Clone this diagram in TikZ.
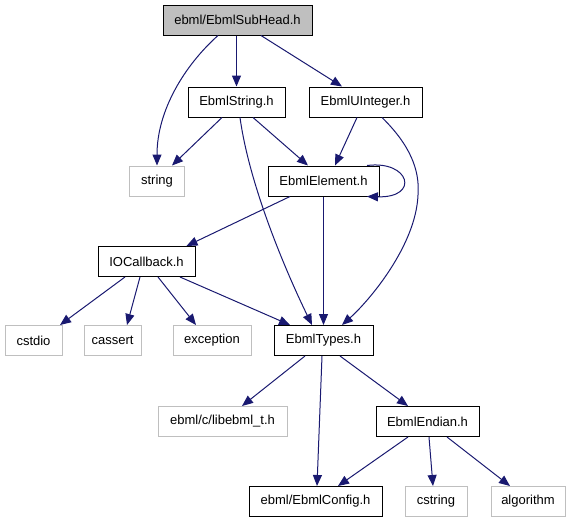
\documentclass[tikz,border=0pt]{standalone}
\usepackage{fontspec}
\setmainfont{Liberation Sans}
\usetikzlibrary{arrows.meta}
\definecolor{edgeblue}{HTML}{191970}
\definecolor{grayfill}{HTML}{BFBFBF}
\begin{document}
\begin{tikzpicture}[x=1pt,y=-1pt,
  box/.style={draw=black, line width=1pt, minimum height=30pt, inner sep=0pt,
              font=\fontsize{13}{15}\selectfont, anchor=center},
  ext/.style={box, draw=grayfill},
  root/.style={box, fill=grayfill},
  dep/.style={draw=edgeblue, line width=1pt, -{Triangle[length=11pt,width=9pt]}, color=edgeblue}]
\useasboundingbox (0,0) rectangle (571,523);
\node[root, minimum width=149pt] (sub) at (237.5,20) {ebml/EbmlSubHead.h};
\node[box, minimum width=97pt] (str) at (236.5,102) {EbmlString.h};
\node[box, minimum width=113pt] (uint) at (365.5,102) {EbmlUInteger.h};
\node[ext, minimum width=55pt] (string) at (157,181) {string};
\node[box, minimum width=111pt] (elem) at (323.5,181) {EbmlElement.h};
\node[box, minimum width=97pt] (io) at (146.5,261.5) {IOCallback.h};
\node[ext, minimum width=57pt] (cstdio) at (33.5,340.5) {cstdio};
\node[ext, minimum width=57pt] (cassert) at (112.5,340.5) {cassert};
\node[ext, minimum width=78pt] (exc) at (212,340.5) {exception};
\node[box, minimum width=99pt] (types) at (323.5,340.5) {EbmlTypes.h};
\node[ext, minimum width=129pt] (libt) at (222.5,421.5) {ebml/c/libebml\_t.h};
\node[box, minimum width=103pt] (endian) at (427.5,421.5) {EbmlEndian.h};
\node[box, minimum width=133pt] (config) at (315.5,501.5) {ebml/EbmlConfig.h};
\node[ext, minimum width=62pt] (cstring) at (436,501.5) {cstring};
\node[ext, minimum width=74pt] (algo) at (528,501.5) {algorithm};

\draw[dep] ([xshift=-19.5pt]sub.south) .. controls (185,65) and (157,110) .. (string.north);
\draw[dep] (sub.south -| str.north) -- (str.north);
\draw[dep] ([xshift=23.5pt]sub.south) -- ([xshift=-23.5pt]uint.north);
\draw[dep] ([xshift=-14.5pt]str.south) -- ([xshift=15pt]string.north);
\draw[dep] ([xshift=16.5pt]str.south) -- ([xshift=-15.5pt]elem.north);
\draw[dep] ([xshift=3.5pt]str.south) .. controls (250,190) and (290,280) .. ([xshift=-11.5pt]types.north);
\draw[dep] ([xshift=-8.5pt]uint.south) -- ([xshift=11.5pt]elem.north);
\draw[dep] ([xshift=16.5pt]uint.south) .. controls (410,145) and (420,170) .. (418,195)
           .. controls (416,245) and (370,300) .. ([xshift=18.5pt]types.north);
\draw[dep] ([xshift=43.5pt]elem.north) .. controls (410,160) and (420,198) .. ([xshift=43.5pt]elem.south);
\draw[dep] ([xshift=-33.5pt]elem.south) -- ([xshift=40pt]io.north);
\draw[dep] (elem.south) -- (types.north);
\draw[dep] ([xshift=-21.5pt]io.south) -- ([xshift=26.5pt]cstdio.north);
\draw[dep] ([xshift=-6.5pt]io.south) -- ([xshift=14.5pt]cassert.north);
\draw[dep] ([xshift=11.5pt]io.south) -- ([xshift=-16pt]exc.north);
\draw[dep] ([xshift=33.5pt]io.south) -- ([xshift=-33.5pt]types.north);
\draw[dep] ([xshift=-18.5pt]types.south) -- ([xshift=19.5pt]libt.north);
\draw[dep] ([xshift=-1.5pt]types.south) -- ([xshift=1.5pt]config.north);
\draw[dep] ([xshift=16.5pt]types.south) -- ([xshift=-19.5pt]endian.north);
\draw[dep] ([xshift=-19.5pt]endian.south) -- ([xshift=22.5pt]config.north);
\draw[dep] ([xshift=1.5pt]endian.south) -- ([xshift=-3pt]cstring.north);
\draw[dep] ([xshift=19.5pt]endian.south) -- ([xshift=-18pt]algo.north);
\end{tikzpicture}
\end{document}
